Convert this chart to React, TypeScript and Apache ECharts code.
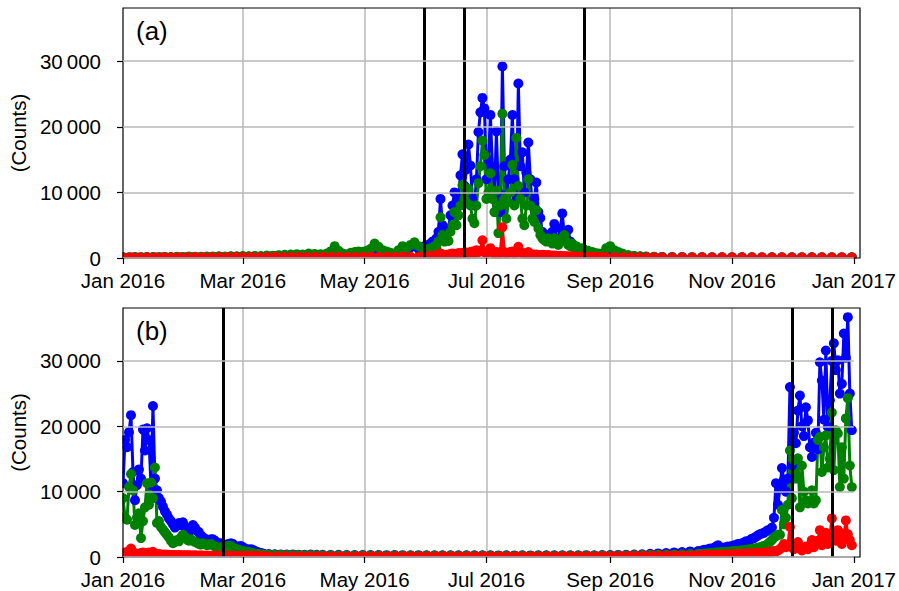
import React, { useEffect, useRef } from 'react';
import * as echarts from 'echarts';

// ---- axis ticks ----
const DAY_TICKS = [0, 60, 121, 182, 244, 305, 366];
const DAY_TICK_LABELS = ['Jan 2016', 'Mar 2016', 'May 2016', 'Jul 2016', 'Sep 2016', 'Nov 2016', 'Jan 2017'];
const COUNT_TICKS = [0, 10000, 20000, 30000];
const COUNT_MAX = 38100;

// ---- vertical event lines (day of year, 0 = 1 Jan 2016) ----
const EVENT_DAYS_A = [151, 171, 231];
const EVENT_DAYS_B = [50, 335, 355];

// ---- panel (a) ----
const aBlueEarly = [[0,90],[3,80],[6,110],[9,100],[12,120],[15,110],[18,100],[21,130],[24,120],[27,140],[30,130],[33,160],[36,150],[39,140],[42,170],[45,160],[48,190],[51,170],[54,210],[57,190],[60,220],[63,210],[66,240],[69,220],[72,290],[75,280],[78,330],[81,380],[84,420],[87,450],[90,420],[93,520],[96,490],[99,470],[102,520],[104,800],[106,1400],[108,900],[110,550],[112,450],[114,620],[116,700],[118,780],[120,740],[122,850],[124,1100],[126,1700],[128,1300],[130,950],[132,800],[134,600],[136,550],[138,900],[140,1400],[142,1200],[144,1600],[146,1900],[148,1400]];
const aGreenEarly = [[0,120],[3,100],[6,140],[9,130],[12,160],[15,140],[18,130],[21,170],[24,150],[27,190],[30,170],[33,210],[36,200],[39,180],[42,230],[45,210],[48,250],[51,230],[54,270],[57,250],[60,290],[63,270],[66,320],[69,290],[72,380],[75,360],[78,430],[81,480],[84,540],[87,580],[90,530],[93,680],[96,620],[99,580],[102,680],[104,1000],[106,1800],[108,1100],[110,700],[112,550],[114,800],[116,900],[118,1000],[120,950],[122,1100],[124,1400],[126,2200],[128,1700],[130,1200],[132,1000],[134,800],[136,700],[138,1200],[140,1800],[142,1500],[144,2000],[146,2400],[148,1800]];
const aRedEarly = [[0,100],[4,120],[8,90],[12,110],[16,100],[20,130],[24,110],[28,120],[32,100],[36,140],[40,120],[44,110],[48,130],[52,120],[56,140],[60,130],[64,150],[68,120],[72,140],[76,160],[80,130],[84,150],[88,170],[92,140],[96,160],[100,150],[104,180],[108,160],[112,170],[116,150],[120,180],[124,200],[128,170],[132,190],[136,160],[140,200],[144,180],[148,170]];

const A_PEAK_START = 150; // daily values from this day on
const aBluePeak = [
  1500,1800,1600,2000,2200,2500,2300,3000,4000,9000,
  5000,3800,4200,4500,6500,8000,10000,8000,9000,12600,
  15800,11000,13500,17300,14100,9000,8000,12000,19200,22200,
  24400,22800,12000,15000,21800,14000,9500,19300,10000,7000,
  29200,14000,9500,12000,15000,21800,12000,9000,26600,14000,
  16100,10000,13000,17600,12000,8000,9000,11500,7000,6100,
  4000,3000,3500,2800,3000,4000,5200,3000,2500,4500,
  6800,3500,2800,4300,2500,2000,1800,1500,1300,1200,
  1000,900,800,700,650,600,550,500,500,450,450,
];
const aGreenPeak = [
  1500,1300,1000,1400,1200,1600,1800,1500,2500,6200,
  3500,2500,2800,2600,4000,5000,7000,5000,6500,8000,
  11100,9000,8500,10500,8000,6000,5300,8000,11400,14000,
  17900,15700,9000,10000,12900,9000,7000,10300,3800,8000,
  22000,9000,6000,8500,10000,14200,8000,18300,11000,9000,
  6000,5000,8000,12000,8000,6000,5500,7300,4500,3500,
  3000,2700,2500,3000,2800,2200,3000,2500,2000,2800,
  3000,3500,2500,2000,1800,2200,1500,1800,1400,1200,
  1500,1300,1000,1100,900,900,800,700,700,650,600,
];
const aRedPeak = [
  150,200,180,250,300,250,350,400,400,700,
  500,400,500,550,600,700,550,600,750,700,
  800,700,850,750,900,1000,800,1200,900,1100,
  2700,900,800,1000,1500,900,700,900,600,900,
  4700,900,700,800,900,1000,700,800,1700,900,
  800,600,700,900,600,550,500,550,450,400,
  500,450,400,450,400,350,400,350,300,350,
  300,280,260,250,240,230,220,200,200,180,
  180,170,160,150,150,140,140,130,130,120,120,
];
const aBlueLate = [[242,900],[244,1100],[246,800],[248,600],[250,450],[253,330],[256,260],[259,220],[262,200],[266,170],[270,150],[275,140],[280,130],[285,120],[290,120],[295,110],[300,110],[305,100],[310,100],[315,100],[320,90],[325,100],[330,90],[335,100],[340,90],[345,100],[350,90],[355,100],[360,90],[365,100]];
const aGreenLate = [[242,1500],[244,1800],[246,1200],[248,900],[250,700],[253,450],[256,320],[259,260],[262,220],[266,190],[270,170],[275,150],[280,140],[285,130],[290,130],[295,120],[300,120],[305,110],[310,110],[315,110],[320,100],[325,110],[330,100],[335,110],[340,100],[345,110],[350,100],[355,110],[360,100],[365,110]];
const aRedLate = [[242,120],[246,110],[250,120],[254,100],[258,110],[262,100],[266,110],[270,100],[275,90],[280,100],[285,90],[290,100],[295,90],[300,100],[305,90],[310,100],[315,90],[320,100],[325,90],[330,100],[335,90],[340,100],[345,90],[350,100],[355,90],[360,100],[365,90]];

// ---- panel (b) ----
const B_EARLY_START = 0;
const bBlueEarly = [
  11300,17900,16800,19100,21700,13000,8700,11000,13400,12000,
  19500,16300,19700,17900,11000,23100,12000,10200,9000,8500,
  7700,7000,6500,5900,5500,5000,4500,4800,5200,4900,
  5300,4600,4200,3800,4200,4900,4500,4000,3800,3300,
  3000,2800,2500,2600,2700,2700,2500,2200,2000,2100,
  1900,1800,1900,2000,2100,2000,1700,1500,1600,1700,
  1500,1300,1200,1100,1200,1100,900,800,700,600,550,
];
const bGreenEarly = [
  9000,6100,5700,10700,12700,10200,4900,6000,6700,2900,
  5500,7600,11300,8000,11400,9000,13700,5200,5500,4600,
  4200,3800,3400,3000,2500,2100,2300,2600,2400,3000,
  3400,3000,2700,2500,2700,2500,2300,2200,2000,1900,
  2100,2000,1800,1900,2000,1800,1600,1500,1400,1500,
  1400,1500,1600,1700,1700,1400,1300,1200,1100,1000,
  900,850,800,750,700,600,550,500,450,420,400,
];
const bRedEarly = [
  500,700,600,900,1300,800,500,400,500,600,
  700,500,600,700,600,800,500,400,450,400,
  350,380,330,350,300,320,300,280,300,270,
  280,260,250,270,250,240,250,230,240,220,
  230,210,220,200,210,200,190,200,180,190,
  180,170,180,170,160,170,160,150,160,150,
  150,140,150,140,130,140,130,120,130,120,120,
];
const bBlueMid = [[73,450],[76,420],[79,400],[82,380],[85,400],[88,360],[91,350],[94,370],[97,340],[100,330],[104,320],[108,330],[112,310],[116,300],[120,310],[124,290],[128,300],[132,280],[136,290],[140,280],[144,270],[148,280],[152,270],[156,260],[160,270],[164,260],[168,250],[172,260],[176,250],[180,260],[184,250],[188,240],[192,250],[196,240],[200,250],[204,240],[208,250],[212,260],[216,250],[220,260],[224,270],[228,260],[232,280],[236,270],[240,290],[244,300],[248,320],[252,340],[256,380],[260,420],[264,480],[268,550],[272,600],[276,700],[280,750],[284,850],[288,900]];
const bGreenMid = [[73,380],[76,350],[79,330],[82,310],[85,320],[88,290],[91,280],[94,290],[97,270],[100,260],[104,250],[108,260],[112,240],[116,230],[120,240],[124,220],[128,230],[132,210],[136,220],[140,210],[144,200],[148,210],[152,200],[156,190],[160,200],[164,190],[168,180],[172,190],[176,180],[180,190],[184,180],[188,170],[192,180],[196,170],[200,180],[204,170],[208,180],[212,190],[216,180],[220,190],[224,200],[228,190],[232,210],[236,200],[240,220],[244,230],[248,240],[252,260],[256,280],[260,300],[264,330],[268,360],[272,380],[276,400],[280,420],[284,450],[288,480]];
const bRedMid = [[73,120],[77,110],[81,120],[85,100],[89,110],[93,100],[97,110],[101,100],[105,90],[109,100],[113,90],[117,100],[121,90],[125,100],[129,90],[133,100],[137,90],[141,100],[145,90],[149,100],[153,90],[157,100],[161,90],[165,100],[169,90],[173,100],[177,90],[181,100],[185,90],[189,100],[193,90],[197,100],[201,90],[205,100],[209,90],[213,100],[217,90],[221,100],[225,110],[229,100],[233,110],[237,120],[241,110],[245,130],[249,140],[253,150],[257,160],[261,170],[265,180],[269,190],[273,200],[277,210],[281,220],[285,230],[288,240]];

const B_LATE_START = 290;
const bBlueLate = [
  1000,1100,1000,1200,1300,1200,1400,1600,1800,1500,
  1300,1400,1500,1600,1500,1700,1800,1700,2000,1900,
  2100,2200,2400,2300,2600,2800,2900,3100,3300,3500,
  3600,3700,3900,4100,4200,4500,6000,11300,8000,10500,
  13600,11800,10000,12000,26000,14000,19000,17400,22400,24700,
  20000,18500,22900,20900,16800,15300,17500,19000,16500,29800,
  27000,21000,31600,19900,24000,30000,32700,28600,30100,25000,
  26500,34200,30500,36700,25000,19400,
];
const bGreenLate = [
  500,520,550,580,600,620,650,700,720,700,
  750,780,800,820,850,880,900,920,950,1000,
  1000,1050,1100,1150,1200,1250,1300,1350,1400,1500,
  1600,1700,1800,2000,2300,2600,3000,3200,3400,3400,
  7200,5000,6000,8000,16300,9000,14800,12000,15100,7600,
  14000,10000,8700,8200,8400,10200,8200,8700,17900,18400,
  13000,16800,18600,13700,15000,22100,13300,19400,18900,10700,
  16800,12000,21200,24300,14000,10700,
];
const bRedLate = [
  250,250,280,260,300,280,300,320,300,330,
  350,330,360,380,350,400,420,400,450,430,
  480,500,480,520,550,500,580,600,560,620,
  650,600,700,750,700,800,900,850,1000,1200,
  1500,2000,1500,1800,4600,1500,1200,1800,2300,1500,
  1000,1300,1600,1200,1800,2600,1500,2000,2500,4100,
  1800,2500,3700,2000,3000,5900,3500,2500,4100,3700,
  2000,3000,5600,3500,2600,1800,
];

// ---- layout ----
const FONT = "'Liberation Sans', Arial, sans-serif";
const TICK_FONT_SIZE = 20.5;
const GRID_LEFT = 123;
const GRID_WIDTH = 737;
const PANELS = [
  { top: 8, height: 250, label: '(a)' },
  { top: 308, height: 249, label: '(b)' },
];

const daily = (start: number, values: number[]) => values.map((v, i) => [start + i, v]);

function buildOption() {
  const seriesA = {
    blue: [...aBlueEarly, ...daily(A_PEAK_START, aBluePeak), ...aBlueLate],
    green: [...aGreenEarly, ...daily(A_PEAK_START, aGreenPeak), ...aGreenLate],
    red: [...aRedEarly, ...daily(A_PEAK_START, aRedPeak), ...aRedLate],
  };
  const seriesB = {
    blue: [...daily(B_EARLY_START, bBlueEarly), ...bBlueMid, ...daily(B_LATE_START, bBlueLate)],
    green: [...daily(B_EARLY_START, bGreenEarly), ...bGreenMid, ...daily(B_LATE_START, bGreenLate)],
    red: [...daily(B_EARLY_START, bRedEarly), ...bRedMid, ...daily(B_LATE_START, bRedLate)],
  };
  const panelData = [seriesA, seriesB];
  const panelEvents = [EVENT_DAYS_A, EVENT_DAYS_B];
  const colors = { blue: '#0000ff', green: '#008000', red: '#ff0000' };

  const grids = PANELS.map((p) => ({
    left: GRID_LEFT, top: p.top, width: GRID_WIDTH, height: p.height, show: false,
  }));

  const xAxes = PANELS.map((_, i) => ({
    type: 'value', gridIndex: i, min: 0, max: 366, z: 20,
    axisLine: { show: false },
    splitLine: { show: false },
    axisTick: { show: true, length: 6, customValues: DAY_TICKS, lineStyle: { color: '#000', width: 1.2 } },
    axisLabel: {
      customValues: DAY_TICKS, margin: 13, color: '#000', fontSize: TICK_FONT_SIZE, lineHeight: 18, fontFamily: FONT,
      formatter: (v: number) => DAY_TICK_LABELS[DAY_TICKS.indexOf(Math.round(v))] ?? '',
    },
  }));

  const yAxes = PANELS.map((_, i) => ({
    type: 'value', gridIndex: i, min: 0, max: COUNT_MAX, interval: 10000, z: 20,
    name: '(Counts)', nameLocation: 'middle', nameGap: 90,
    nameTextStyle: { color: '#000', fontSize: TICK_FONT_SIZE, fontFamily: FONT },
    axisLine: { show: false },
    splitLine: { show: true, lineStyle: { color: '#b8b8b8', width: 1.5 } },
    axisTick: { show: true, length: 6, customValues: COUNT_TICKS, lineStyle: { color: '#000', width: 1.2 } },
    axisLabel: {
      customValues: COUNT_TICKS, margin: 22, color: '#000', fontSize: TICK_FONT_SIZE, lineHeight: 14, fontFamily: FONT,
      formatter: (v: number) => (v === 0 ? '0' : `${Math.round(v / 1000)}\u2009000`),
    },
  }));

  const series: any[] = [];
  PANELS.forEach((_, i) => {
    // vertical grid lines
    series.push({
      type: 'line', xAxisIndex: i, yAxisIndex: i, data: [], silent: true,
      markLine: {
        silent: true, symbol: ['none', 'none'], z: 1, animation: false,
        label: { show: false },
        lineStyle: { color: '#b8b8b8', width: 1.5, type: 'solid' },
        data: DAY_TICKS.slice(1, -1).map((d) => ({ xAxis: d })),
      },
    });
    (['blue', 'green', 'red'] as const).forEach((k) => {
      series.push({
        type: 'line', xAxisIndex: i, yAxisIndex: i, data: (panelData[i] as any)[k],
        symbol: 'circle', symbolSize: 10, showAllSymbol: true,
        lineStyle: { color: colors[k], width: 3 },
        itemStyle: { color: colors[k], borderWidth: 0 },
        emphasis: { disabled: true },
      });
    });
    // event lines
    series.push({
      type: 'line', xAxisIndex: i, yAxisIndex: i, data: [], silent: true,
      markLine: {
        silent: true, symbol: ['none', 'none'], z: 12, animation: false,
        label: { show: false },
        lineStyle: { color: '#000', width: 3, type: 'solid' },
        data: panelEvents[i].map((d) => ({ xAxis: d })),
      },
    });
  });

  const graphics: any[] = [];
  PANELS.forEach((p) => {
    const bottom = p.top + p.height;
    // white strips emulate clipping of markers at the frame
    graphics.push({ type: 'rect', z: 15, silent: true, shape: { x: 104, y: bottom + 0.6, width: 775, height: 7 }, style: { fill: '#fff' } });
    graphics.push({ type: 'rect', z: 15, silent: true, shape: { x: 106, y: p.top - 8, width: GRID_LEFT - 106 - 0.6, height: p.height + 16 }, style: { fill: '#fff' } });
    graphics.push({ type: 'rect', z: 15, silent: true, shape: { x: GRID_LEFT + GRID_WIDTH + 0.6, y: p.top - 8, width: 20, height: p.height + 16 }, style: { fill: '#fff' } });
    graphics.push({ type: 'rect', z: 15, silent: true, shape: { x: 106, y: p.top - 8, width: 775, height: 7.4 }, style: { fill: '#fff' } });
    // frame
    graphics.push({ type: 'rect', z: 16, silent: true, shape: { x: GRID_LEFT, y: p.top, width: GRID_WIDTH, height: p.height }, style: { fill: 'none', stroke: '#000', lineWidth: 1.2 } });
    // panel label
    graphics.push({ type: 'text', z: 17, silent: true, x: 136, y: p.top + 22.5, style: { text: p.label, fill: '#000', font: `26px ${FONT}`, verticalAlign: 'middle' } });
  });

  return {
    animation: false,
    backgroundColor: '#fff',
    grid: grids,
    xAxis: xAxes,
    yAxis: yAxes,
    series,
    graphic: graphics,
  };
}

export default function App() {
  const ref = useRef<HTMLDivElement>(null);
  useEffect(() => {
    if (!ref.current) return;
    const chart = echarts.init(ref.current, undefined, { renderer: 'svg' });
    chart.setOption(buildOption() as any);
    return () => chart.dispose();
  }, []);
  return (
    <div
      ref={ref}
      style={{ position: 'absolute', left: 0, top: 0, width: 899, height: 591, background: '#fff' }}
    />
  );
}
